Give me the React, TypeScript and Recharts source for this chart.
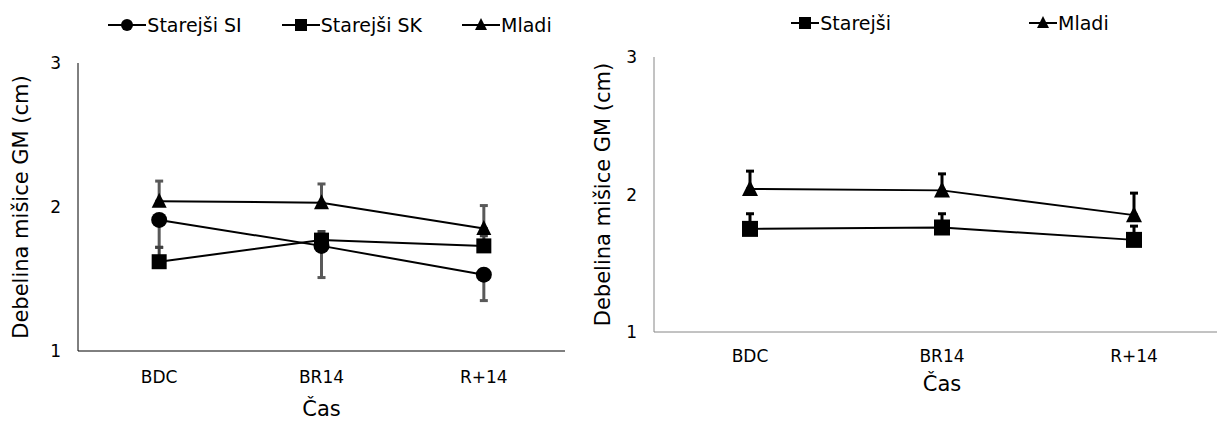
import React from 'react';
import { LineChart, Line, XAxis, YAxis, ErrorBar, Legend } from 'recharts';

// time points
const categories = ['BDC', 'BR14', 'R+14'];

// left panel: older SI, older SK, young
const siMean = [1.91, 1.73, 1.53];
const siSd = [0.19, 0.22, 0.18];
const skMean = [1.62, 1.77, 1.73];
const skSd = [0.1, 0.06, 0.07];
const mladiMean = [2.04, 2.03, 1.85];
const mladiSd = [0.14, 0.13, 0.16];

// right panel: older (pooled), young
const starejsiMean = [1.75, 1.76, 1.67];
const starejsiSd = [0.11, 0.1, 0.1];
const mladi2Mean = [2.04, 2.03, 1.85];
const mladi2Sd = [0.13, 0.12, 0.16];

const yTicks = [1, 2, 3];

const FONT = '"DejaVu Sans", Verdana, sans-serif';

const leftData = categories.map((c, i) => ({
  cas: c,
  si: siMean[i],
  siErr: [siSd[i], 0],
  sk: skMean[i],
  skErr: [0, skSd[i]],
  mladi: mladiMean[i],
  mladiErr: [0, mladiSd[i]],
}));

const rightData = categories.map((c, i) => ({
  cas: c,
  starejsi: starejsiMean[i],
  starejsiErr: [0, starejsiSd[i]],
  mladi: mladi2Mean[i],
  mladiErr: [0, mladi2Sd[i]],
}));

type Shape = 'circle' | 'square' | 'triangle';

function marker(shape: Shape, cx: number, cy: number, s: number, key?: string) {
  const h = s / 2;
  if (shape === 'circle') return <circle key={key} cx={cx} cy={cy} r={h} fill="#000" />;
  if (shape === 'square') return <rect key={key} x={cx - h} y={cy - h} width={s} height={s} fill="#000" />;
  return <path key={key} d={`M${cx},${cy - h - 1}L${cx + h},${cy + h - 1}L${cx - h},${cy + h - 1}Z`} fill="#000" />;
}

const dotFn = (shape: Shape, s: number) => (p: any) => marker(shape, p.cx, p.cy, s, `${shape}-${p.index}`);

function LegendRow({ items, gap, iconW, s }: { items: { name: string; shape: Shape }[]; gap: number; iconW: number; s: number }) {
  return (
    <div style={{ display: 'flex', justifyContent: 'center', alignItems: 'center', height: 40, gap, fontFamily: FONT, fontSize: 19, color: '#000' }}>
      {items.map((it) => (
        <div key={it.name} style={{ display: 'flex', alignItems: 'center' }}>
          <svg width={iconW} height={16} style={{ marginRight: 1 }}>
            <line x1={0} y1={8} x2={iconW} y2={8} stroke="#000" strokeWidth={2} />
            {marker(it.shape, iconW / 2, 8, s)}
          </svg>
          <span>{it.name}</span>
        </div>
      ))}
    </div>
  );
}

const tickStyle = { fontFamily: FONT, fontSize: 17, fill: '#000' };
const titleStyle = { fontFamily: FONT, fontSize: 21, fill: '#000', textAnchor: 'middle' as const };

export default function App() {
  return (
    <div style={{ position: 'fixed', left: 0, top: 0, width: 1217, height: 421, overflow: 'hidden', background: '#fff' }}>
      <div style={{ position: 'absolute', left: 0, top: 0 }}>
        <LineChart width={600} height={421} data={leftData} margin={{ top: 23, right: 35, bottom: 0, left: 0 }}>
          <Legend
            verticalAlign="top"
            wrapperStyle={{ left: 30, top: 5, width: 600 }}
            content={() => (
              <LegendRow
                items={[{ name: 'Starejši SI', shape: 'circle' }, { name: 'Starejši SK', shape: 'square' }, { name: 'Mladi', shape: 'triangle' }]}
                gap={40}
                iconW={38}
                s={12}
              />
            )}
          />
          <XAxis
            dataKey="cas"
            scale="band"
            height={70}
            axisLine={{ stroke: '#000', strokeWidth: 1 }}
            tickLine={false}
            tickSize={0}
            tickMargin={20}
            tick={tickStyle}
            label={{ value: 'Čas', position: 'insideTop', offset: 50, style: titleStyle }}
          />
          <YAxis
            width={78}
            domain={[1, 3]}
            ticks={yTicks}
            axisLine={{ stroke: '#000', strokeWidth: 1 }}
            tickLine={false}
            tickSize={0}
            tickMargin={17}
            tick={tickStyle}
            label={{ value: 'Debelina mišice GM (cm)', angle: -90, position: 'insideLeft', offset: 21, style: titleStyle }}
          />
          <Line dataKey="si" stroke="#000" strokeWidth={2} dot={dotFn('circle', 16)} isAnimationActive={false}>
            <ErrorBar dataKey="siErr" direction="y" width={4} strokeWidth={3} stroke="#595959" />
          </Line>
          <Line dataKey="sk" stroke="#000" strokeWidth={2} dot={dotFn('square', 15)} isAnimationActive={false}>
            <ErrorBar dataKey="skErr" direction="y" width={4} strokeWidth={3} stroke="#404040" />
          </Line>
          <Line dataKey="mladi" stroke="#000" strokeWidth={2} dot={dotFn('triangle', 15)} isAnimationActive={false}>
            <ErrorBar dataKey="mladiErr" direction="y" width={4} strokeWidth={3} stroke="#595959" />
          </Line>
        </LineChart>
      </div>
      <div style={{ position: 'absolute', left: 590, top: 0 }}>
        <LineChart width={660} height={421} data={rightData} margin={{ top: 17, right: 20, bottom: 0, left: 0 }}>
          <Legend
            verticalAlign="top"
            wrapperStyle={{ left: 0, top: 3, width: 720 }}
            content={() => (
              <LegendRow
                items={[{ name: 'Starejši', shape: 'square' }, { name: 'Mladi', shape: 'triangle' }]}
                gap={138}
                iconW={28}
                s={12}
              />
            )}
          />
          <XAxis
            dataKey="cas"
            scale="band"
            height={89}
            axisLine={{ stroke: '#868686', strokeWidth: 1 }}
            tickLine={false}
            tickSize={0}
            tickMargin={18}
            tick={tickStyle}
            label={{ value: 'Čas', position: 'insideTop', offset: 44, style: titleStyle }}
          />
          <YAxis
            width={64}
            domain={[1, 3]}
            ticks={yTicks}
            axisLine={{ stroke: '#868686', strokeWidth: 1 }}
            tickLine={false}
            tickSize={0}
            tickMargin={17}
            tick={tickStyle}
            label={{ value: 'Debelina mišice GM (cm)', angle: -90, position: 'insideLeft', offset: 13, style: titleStyle }}
          />
          <Line dataKey="starejsi" stroke="#000" strokeWidth={2} dot={dotFn('square', 16)} isAnimationActive={false}>
            <ErrorBar dataKey="starejsiErr" direction="y" width={4} strokeWidth={3} stroke="#000" />
          </Line>
          <Line dataKey="mladi" stroke="#000" strokeWidth={2} dot={dotFn('triangle', 16)} isAnimationActive={false}>
            <ErrorBar dataKey="mladiErr" direction="y" width={4} strokeWidth={3} stroke="#000" />
          </Line>
        </LineChart>
      </div>
    </div>
  );
}
